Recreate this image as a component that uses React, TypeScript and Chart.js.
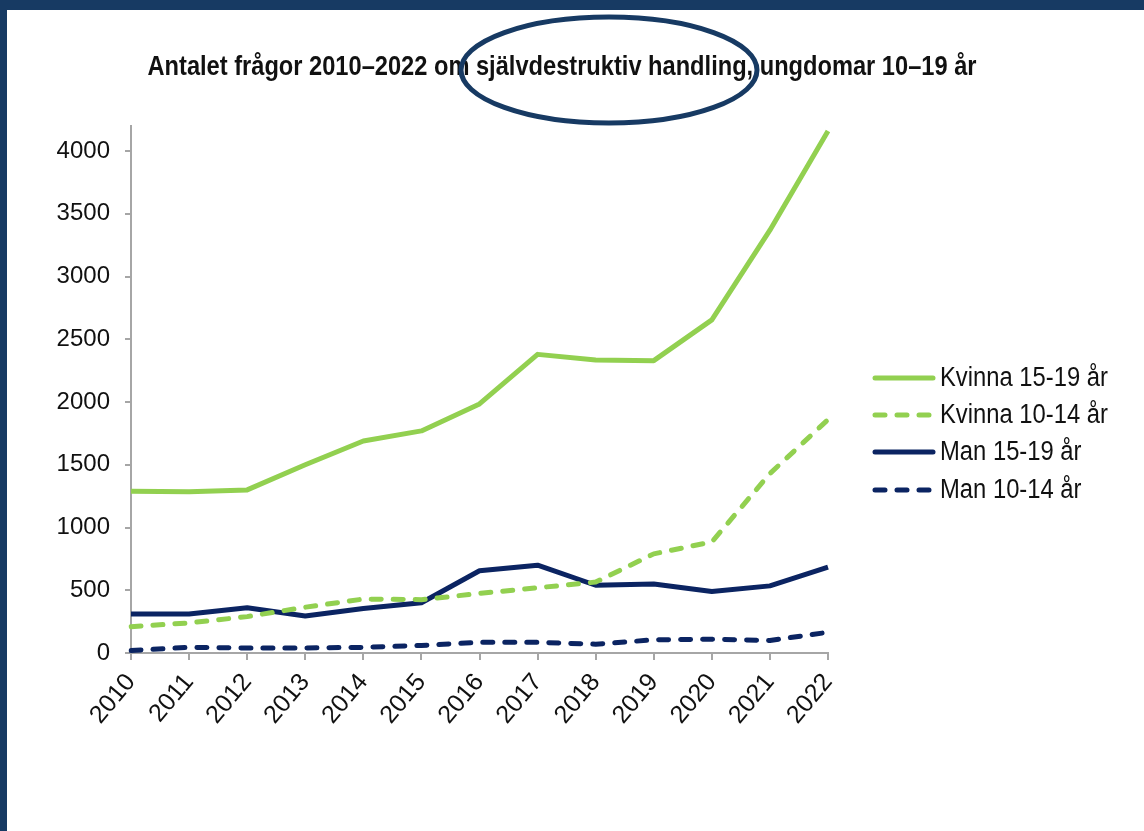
import React, { useEffect, useRef } from "react";
import { Chart, registerables } from "chart.js";

Chart.register(...registerables);

const years = ["2010", "2011", "2012", "2013", "2014", "2015", "2016", "2017", "2018", "2019", "2020", "2021", "2022"];
const kvinna1519 = [1290, 1285, 1300, 1500, 1690, 1770, 1985, 2380, 2335, 2330, 2655, 3370, 4160];
const kvinna1014 = [210, 240, 290, 365, 430, 425, 475, 520, 565, 790, 885, 1430, 1860];
const man1519 = [310, 310, 360, 295, 355, 400, 655, 700, 540, 550, 490, 535, 685];
const man1014 = [20, 45, 40, 40, 45, 60, 85, 85, 70, 105, 110, 100, 165];
const yTickValues = [0, 500, 1000, 1500, 2000, 2500, 3000, 3500, 4000];
const seriesLabels = ["Kvinna 15-19 år", "Kvinna 10-14 år", "Man 15-19 år", "Man 10-14 år"];
const titleText = "Antalet frågor 2010–2022 om självdestruktiv handling, ungdomar 10–19 år";

const GREEN = "#92d050";
const NAVY = "#0b2462";
const FRAME = "#173a63";
const FONT = "'Liberation Sans', Arial, sans-serif";
const DASH = [10, 12];

const overlayPlugin = {
  id: "overlay",
  afterDraw(chart: any) {
    const ctx = chart.ctx as CanvasRenderingContext2D;
    ctx.save();
    // title (condensed look: tall font, squeezed horizontally)
    ctx.fillStyle = "#111";
    ctx.font = `bold 27px ${FONT}`;
    ctx.textAlign = "center";
    ctx.textBaseline = "middle";
    const tw = ctx.measureText(titleText).width;
    const tsx = 829 / tw;
    ctx.save();
    ctx.translate(562, 68);
    ctx.scale(tsx, 1);
    ctx.fillText(titleText, 0, 0);
    ctx.restore();
    // ellipse annotation
    ctx.beginPath();
    ctx.ellipse(609, 70, 148, 53, 0, 0, Math.PI * 2);
    ctx.lineWidth = 5;
    ctx.strokeStyle = FRAME;
    ctx.stroke();
    // legend
    const x0 = 873;
    const x1 = 935;
    const ys = [378, 415, 452, 490];
    ctx.font = `27px ${FONT}`;
    const lw = ctx.measureText(chart.data.datasets[0].label).width;
    const lsx = 168 / lw;
    chart.data.datasets.forEach((ds: any, i: number) => {
      const y = ys[i];
      ctx.beginPath();
      ctx.setLineDash(ds.borderDash || []);
      ctx.lineCap = "round";
      ctx.lineWidth = ds.borderWidth;
      ctx.strokeStyle = ds.borderColor;
      ctx.moveTo(x0 + 2, y);
      ctx.lineTo(x1 - 2, y);
      ctx.stroke();
      ctx.setLineDash([]);
      ctx.fillStyle = "#111";
      ctx.textAlign = "left";
      ctx.textBaseline = "middle";
      ctx.save();
      ctx.translate(940, y + 1);
      ctx.scale(lsx, 1);
      ctx.fillText(ds.label, 0, 0);
      ctx.restore();
    });
    ctx.restore();
  },
};

export default function App() {
  const ref = useRef<HTMLCanvasElement>(null);
  useEffect(() => {
    document.body.style.margin = "0";
    const mk = (label: string, data: number[], color: string, dashed: boolean) => ({
      label,
      data,
      borderColor: color,
      backgroundColor: color,
      borderWidth: 5,
      borderDash: dashed ? DASH : [],
      borderCapStyle: dashed ? "round" : "butt",
      borderJoinStyle: "round",
      pointRadius: 0,
      tension: 0,
      fill: false,
    });
    const chart = new Chart(ref.current!, {
      type: "line",
      data: {
        labels: years,
        datasets: [
          mk(seriesLabels[0], kvinna1519, GREEN, false),
          mk(seriesLabels[1], kvinna1014, GREEN, true),
          mk(seriesLabels[2], man1519, NAVY, false),
          mk(seriesLabels[3], man1014, NAVY, true),
        ] as any,
      },
      options: {
        animation: false,
        responsive: false,
        maintainAspectRatio: false,
        layout: { padding: { left: 0, top: 126, right: 316, bottom: 0 } },
        plugins: {
          legend: { display: false },
          title: { display: false },
          tooltip: { enabled: false },
        },
        scales: {
          x: {
            offset: false,
            grid: { drawOnChartArea: false, drawTicks: true, tickLength: 7, color: "#a6a6a6", lineWidth: 2 },
            border: { color: "#a6a6a6", width: 2 },
            ticks: {
              minRotation: 50,
              maxRotation: 50,
              autoSkip: false,
              padding: 8,
              color: "#111",
              font: { family: FONT, size: 25 },
            },
            afterFit(scale: any) {
              scale.height = 831 - 653;
            },
          },
          y: {
            min: 0,
            max: 4200,
            grid: { drawOnChartArea: false, drawTicks: true, tickLength: 6, color: "#a6a6a6", lineWidth: 2 },
            border: { color: "#a6a6a6", width: 2 },
            ticks: {
              padding: 15,
              color: "#111",
              font: { family: FONT, size: 24 },
              callback: (v: any) => String(v),
            },
            afterBuildTicks(scale: any) {
              scale.ticks = yTickValues.map((v) => ({ value: v }));
            },
            afterFit(scale: any) {
              scale.width = 131;
            },
          },
        },
      },
      plugins: [overlayPlugin],
    });
    return () => chart.destroy();
  }, []);
  return (
    <div style={{ position: "absolute", left: 0, top: 0, width: 1144, height: 831, background: "#fff", overflow: "hidden" }}>
      <canvas ref={ref} width={1144} height={831} style={{ position: "absolute", left: 0, top: 0, width: 1144, height: 831 }} />
      <div style={{ position: "absolute", left: 0, top: 0, width: 1144, height: 10, background: FRAME }} />
      <div style={{ position: "absolute", left: 0, top: 0, width: 7, height: 831, background: FRAME }} />
    </div>
  );
}
